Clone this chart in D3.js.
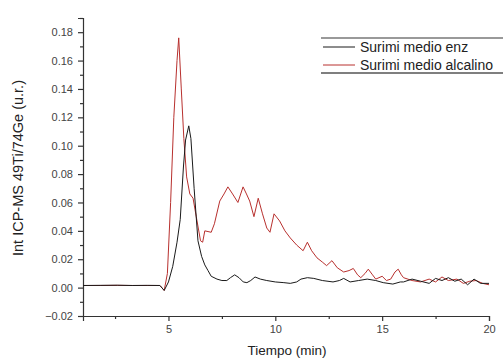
<!DOCTYPE html>
<html>
<head>
<meta charset="utf-8">
<script src="https://cdn.jsdelivr.net/npm/d3@7"></script>
<style>
  body { margin: 0; background: #fff; }
  text { font-family: "Liberation Sans", Arial, sans-serif; }
</style>
</head>
<body>
<svg width="503" height="360"></svg>
<script>
// tiempo (min) / intensidad
const enzTime = [1, 1.8, 2.6, 3.3, 4.0, 4.6, 4.8, 5.0, 5.2, 5.4, 5.55, 5.7, 5.8, 5.95, 6.05, 6.2, 6.38, 6.55, 6.7, 6.85, 7.0, 7.27, 7.5, 7.73, 7.9, 8.1, 8.3, 8.5, 8.67, 8.85, 9.05, 9.3, 9.6, 10.0, 10.4, 10.7, 11.0, 11.2, 11.5, 11.8, 12.2, 12.7, 13.0, 13.2, 13.5, 13.9, 14.3, 14.7, 15.05, 15.5, 15.85, 16.0, 16.4, 16.8, 17.2, 17.5, 17.8, 18.1, 18.4, 18.7, 19.0, 19.3, 19.6, 20]
const enzVal  = [0.0015, 0.0016, 0.0017, 0.0015, 0.0016, 0.0015, -0.002, 0.004, 0.015, 0.032, 0.048, 0.085, 0.104, 0.114, 0.105, 0.07, 0.033, 0.022, 0.016, 0.012, 0.008, 0.006, 0.005, 0.005, 0.007, 0.009, 0.007, 0.004, 0.0035, 0.005, 0.0075, 0.006, 0.005, 0.004, 0.0035, 0.003, 0.004, 0.006, 0.007, 0.0065, 0.005, 0.004, 0.005, 0.0065, 0.004, 0.005, 0.006, 0.005, 0.0035, 0.0025, 0.004, 0.004, 0.006, 0.0045, 0.003, 0.0065, 0.005, 0.007, 0.0045, 0.006, 0.002, 0.006, 0.003, 0.003]

const alcTime = [1, 1.8, 2.6, 3.3, 4.0, 4.6, 4.8, 4.95, 5.1, 5.25, 5.4, 5.48, 5.6, 5.72, 5.85, 6.0, 6.15, 6.3, 6.5, 6.6, 6.7, 7.0, 7.15, 7.4, 7.6, 7.78, 8.0, 8.25, 8.49, 8.65, 8.8, 9.0, 9.2, 9.4, 9.6, 9.75, 9.94, 10.2, 10.45, 10.7, 11.0, 11.3, 11.5, 11.7, 11.95, 12.2, 12.4, 12.65, 12.9, 13.2, 13.45, 13.65, 13.85, 14.0, 14.2, 14.35, 14.55, 14.7, 15.0, 15.2, 15.4, 15.6, 15.75, 15.9, 16.0, 16.4, 16.8, 17.2, 17.5, 17.8, 18.1, 18.5, 18.8, 19.1, 19.4, 19.7, 20]
const alcVal  = [0.0015, 0.0015, 0.0016, 0.0015, 0.0015, 0.0015, -0.002, 0.01, 0.06, 0.12, 0.16, 0.176, 0.14, 0.105, 0.078, 0.066, 0.063, 0.05, 0.033, 0.032, 0.040, 0.039, 0.045, 0.061, 0.066, 0.071, 0.066, 0.060, 0.071, 0.066, 0.061, 0.050, 0.063, 0.052, 0.042, 0.039, 0.052, 0.047, 0.040, 0.035, 0.030, 0.026, 0.032, 0.026, 0.021, 0.018, 0.0155, 0.019, 0.014, 0.011, 0.012, 0.0135, 0.009, 0.007, 0.010, 0.013, 0.009, 0.006, 0.008, 0.005, 0.006, 0.011, 0.013, 0.009, 0.007, 0.005, 0.004, 0.006, 0.004, 0.0075, 0.005, 0.006, 0.003, 0.0045, 0.005, 0.003, 0.002]

const seriesNames = ["Surimi medio enz", "Surimi medio alcalino"]
const seriesColors = ["#1a1a1a", "#b8302e"]
const xTicks = [5, 10, 15, 20]
const yTicks = [-0.02, 0.00, 0.02, 0.04, 0.06, 0.08, 0.10, 0.12, 0.14, 0.16, 0.18]

const svg = d3.select("svg")
const x = d3.scaleLinear().domain([1, 20]).range([83, 489])
const y = d3.scaleLinear().domain([-0.02, 0.19]).range([316, 18])

// minor ticks first
svg.append("g").attr("transform", "translate(0,316)")
	.call(d3.axisBottom(x).tickValues([2.5, 7.5, 12.5, 17.5]).tickSize(3).tickFormat(""))
	.call(g => g.select(".domain").remove())
svg.append("g").attr("transform", "translate(83,0)")
	.call(d3.axisLeft(y).tickValues(d3.range(-0.01, 0.191, 0.02)).tickSize(3).tickFormat(""))
	.call(g => g.select(".domain").remove())

const xAxis = svg.append("g").attr("transform", "translate(0,316)")
	.call(d3.axisBottom(x).tickValues(xTicks).tickSize(5).tickPadding(4).tickFormat(d3.format("d")))
const yAxis = svg.append("g").attr("transform", "translate(83,0)")
	.call(d3.axisLeft(y).tickValues(yTicks).tickSize(5).tickPadding(5).tickFormat(d3.format(".2f")))

svg.selectAll(".tick line, .domain").attr("stroke", "#333").attr("stroke-width", 1.2)
svg.selectAll(".tick text").attr("fill", "#444").style("font-size", "11px")
	.style("font-family", "'Liberation Sans', Arial, sans-serif")

const line = d3.line().x(d => x(d[0])).y(d => y(d[1]))
const enz = enzTime.map((t, i) => [t, enzVal[i]])
const alc = alcTime.map((t, i) => [t, alcVal[i]])

svg.append("path").datum(alc).attr("d", line)
	.attr("fill", "none").attr("stroke", seriesColors[1]).attr("stroke-width", 1)
svg.append("path").datum(enz).attr("d", line)
	.attr("fill", "none").attr("stroke", seriesColors[0]).attr("stroke-width", 1)

// legend: only top and bottom border show
const leg = svg.append("g")
leg.append("line").attr("x1", 321).attr("x2", 510).attr("y1", 38).attr("y2", 38)
	.attr("stroke", "#777").attr("stroke-width", 1.5)
leg.append("line").attr("x1", 321).attr("x2", 510).attr("y1", 73).attr("y2", 73)
	.attr("stroke", "#555").attr("stroke-width", 1.5)
seriesNames.forEach((n, i) => {
	const yy = 47 + i * 18
	leg.append("line").attr("x1", 323).attr("x2", 355).attr("y1", yy).attr("y2", yy)
		.attr("stroke", seriesColors[i]).attr("stroke-width", 1)
	leg.append("text").attr("x", 360).attr("y", yy + 5).text(n)
		.style("font-size", "14px").attr("fill", "#222")
})

svg.append("text").attr("x", 287).attr("y", 355).attr("text-anchor", "middle")
	.style("font-size", "13.5px").attr("fill", "#222").text("Tiempo (min)")
svg.append("text").attr("transform", "translate(23,168) rotate(-90)").attr("text-anchor", "middle")
	.style("font-size", "14.5px").attr("fill", "#222").text("Int ICP-MS 49Ti/74Ge (u.r.)")
</script>
</body>
</html>
